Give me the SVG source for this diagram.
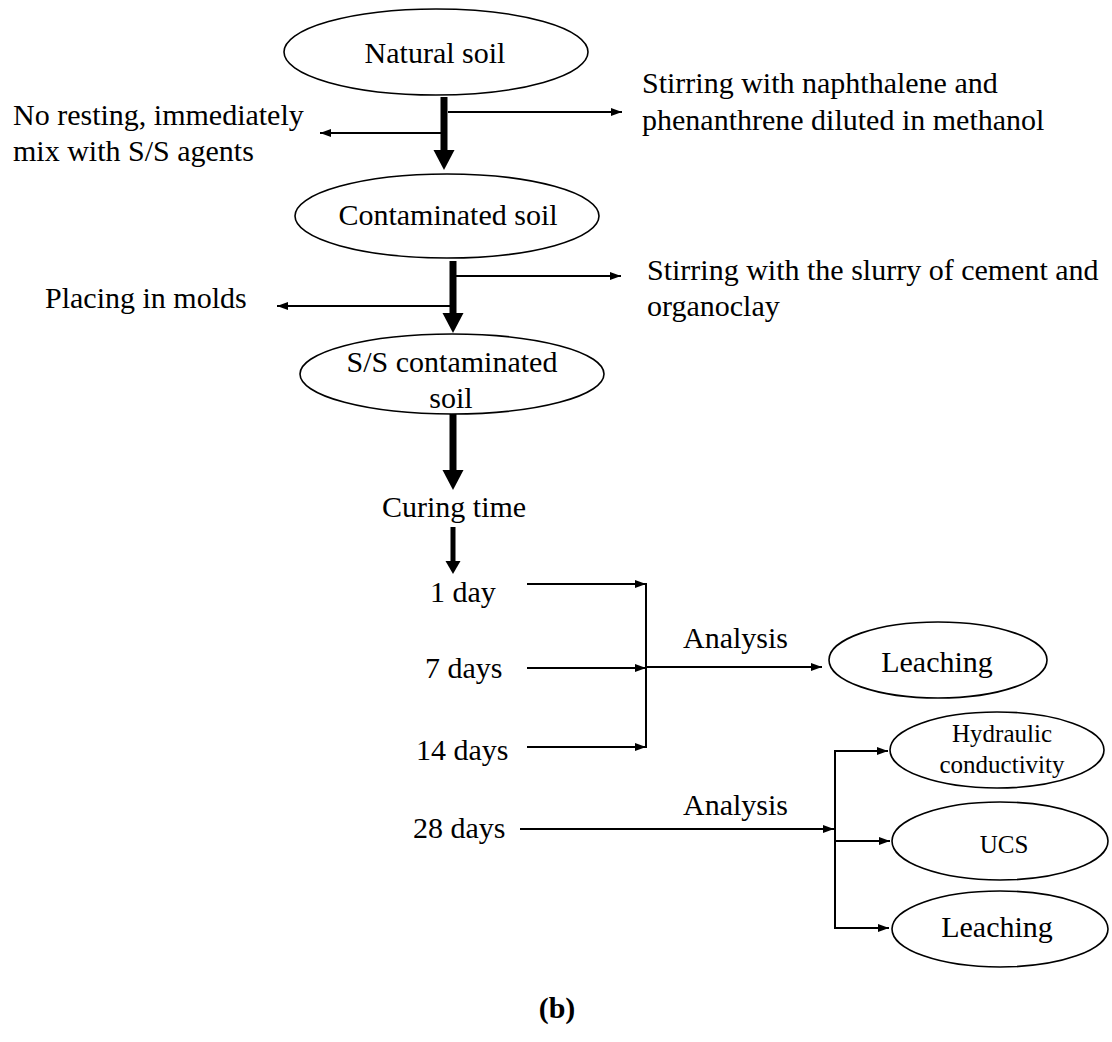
<svg xmlns="http://www.w3.org/2000/svg" width="1112" height="1042" viewBox="0 0 1112 1042">
<defs>
<style>
text{font-family:"Liberation Serif","Times New Roman",serif;font-size:30px;fill:#000}
.s{font-size:25px}
.c{text-anchor:middle}
.b{font-weight:bold}
ellipse{fill:#fff;stroke:#000;stroke-width:1.6}
.t{stroke:#000;stroke-width:2;fill:none}
.k{stroke:#000;stroke-width:7;fill:none}
.m{stroke:#000;stroke-width:5;fill:none}
.h{fill:#000}
</style>
<marker id="a" markerUnits="userSpaceOnUse" markerWidth="12" markerHeight="10" refX="11" refY="5" orient="auto">
<path d="M0,1 L11,5 L0,9 Z" fill="#000"/>
</marker>
</defs>
<rect width="1112" height="1042" fill="#fff"/>
<g id="connectors">
<!-- thick arrow 1 -->
<line class="k" x1="444" y1="97" x2="444" y2="152"/>
<polygon class="h" points="433.5,150 454.5,150 444,170"/>
<line class="t" x1="448" y1="112" x2="622" y2="112" marker-end="url(#a)"/>
<line class="t" x1="441" y1="133" x2="320" y2="133" marker-end="url(#a)"/>
<!-- thick arrow 2 -->
<line class="k" x1="453" y1="261" x2="453" y2="315"/>
<polygon class="h" points="442.5,313 463.5,313 453,333"/>
<line class="t" x1="456" y1="276" x2="621" y2="276" marker-end="url(#a)"/>
<line class="t" x1="450" y1="306" x2="277" y2="306" marker-end="url(#a)"/>
<!-- thick arrow 3 -->
<line class="k" x1="453" y1="414" x2="453" y2="472"/>
<polygon class="h" points="442.5,470 463.5,470 453,490"/>
<!-- curing arrow -->
<line class="m" x1="453" y1="527" x2="453" y2="563"/>
<polygon class="h" points="445.5,561 460.5,561 453,574"/>
<!-- day arrows -->
<line class="t" x1="527" y1="584" x2="646" y2="584" marker-end="url(#a)"/>
<line class="t" x1="527" y1="668" x2="646" y2="668" marker-end="url(#a)"/>
<line class="t" x1="527" y1="747" x2="646" y2="747" marker-end="url(#a)"/>
<line class="t" x1="646" y1="583" x2="646" y2="748"/>
<line class="t" x1="646" y1="667" x2="822" y2="667" marker-end="url(#a)"/>
<!-- 28 days -->
<line class="t" x1="520" y1="829" x2="834" y2="829" marker-end="url(#a)"/>
<line class="t" x1="835" y1="750" x2="835" y2="929"/>
<line class="t" x1="834" y1="751" x2="888" y2="751" marker-end="url(#a)"/>
<line class="t" x1="834" y1="841" x2="890" y2="841" marker-end="url(#a)"/>
<line class="t" x1="834" y1="928" x2="889" y2="928" marker-end="url(#a)"/>
</g>
<g id="natural-soil">
<ellipse cx="436" cy="52" rx="152" ry="43"/>
<text class="c" x="435" y="63">Natural soil</text>
</g>
<g id="contaminated-soil">
<ellipse cx="447" cy="216" rx="152" ry="42"/>
<text class="c" x="448" y="225">Contaminated soil</text>
</g>
<g id="ss-soil">
<ellipse cx="452" cy="374" rx="152" ry="40"/>
<text class="c" x="452" y="372">S/S contaminated</text>
<text class="c" x="451" y="408">soil</text>
</g>
<g id="note-no-resting">
<text x="13" y="125">No resting, immediately</text>
<text x="13" y="161">mix with S/S agents</text>
</g>
<g id="note-stirring-1">
<text x="642" y="93">Stirring with naphthalene and</text>
<text x="642" y="130">phenanthrene diluted in methanol</text>
</g>
<g id="note-placing">
<text x="45" y="308">Placing in molds</text>
</g>
<g id="note-stirring-2">
<text x="647" y="280">Stirring with the slurry of cement and</text>
<text x="647" y="316">organoclay</text>
</g>
<g id="curing-time"><text x="382" y="517">Curing time</text></g>
<g id="day1"><text x="430" y="602">1 day</text></g>
<g id="day7"><text x="425" y="678">7 days</text></g>
<g id="day14"><text x="416" y="760">14 days</text></g>
<g id="day28"><text x="413" y="838">28 days</text></g>
<g id="analysis-1"><text x="683" y="648">Analysis</text></g>
<g id="analysis-2"><text x="683" y="815">Analysis</text></g>
<g id="leaching-1">
<ellipse cx="938" cy="660" rx="109" ry="38"/>
<text class="c" x="937" y="672">Leaching</text>
</g>
<g id="hydraulic">
<ellipse cx="997" cy="750" rx="107" ry="38"/>
<text class="c s" x="1002" y="742">Hydraulic</text>
<text class="c s" x="1002" y="773">conductivity</text>
</g>
<g id="ucs">
<ellipse cx="1000" cy="841" rx="108" ry="39"/>
<text class="c s" x="1004" y="853">UCS</text>
</g>
<g id="leaching-2">
<ellipse cx="1000" cy="929" rx="108" ry="38"/>
<text class="c" x="997" y="937">Leaching</text>
</g>
<g id="caption"><text class="c b" x="557" y="1018">(b)</text></g>
</svg>
